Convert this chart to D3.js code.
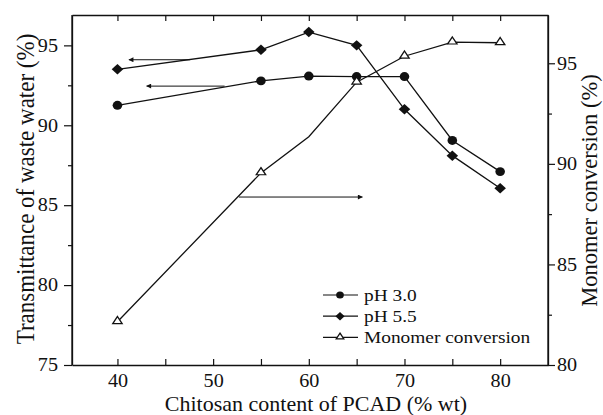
<!DOCTYPE html>
<html>
<head>
<meta charset="utf-8">
<script src="https://cdn.jsdelivr.net/npm/d3@7"></script>
<style>
  html, body { margin: 0; padding: 0; background: #fff; }
  svg text { font-family: "Liberation Serif", "Times New Roman", serif; fill: #111; }
</style>
</head>
<body>
<svg id="chart" width="603" height="415"></svg>
<script>
// ---------------- data ----------------
const chitosan = [40, 55, 60, 65, 70, 75, 80];
const ph30 = [91.25, 92.78, 93.08, 93.05, 93.05, 89.05, 87.1];
const ph55 = [93.5, 94.72, 95.83, 95.0, 91.0, 88.1, 86.06];
const monomer = [82.15, 89.55, 91.35, 94.06, 95.35, 96.05, 96.02];
const monomerMarked = [true, true, false, true, true, true, true];

const xTicks = [40, 45, 50, 55, 60, 65, 70, 75, 80];
const xTickLabels = [40, 50, 60, 70, 80];
const leftTicks = [75, 80, 85, 90, 95];
const leftMinor = [77.5, 82.5, 87.5, 92.5];
const rightTicks = [80, 85, 90, 95];
const rightMinor = [82.5, 87.5, 92.5];

const legendLabels = ["pH 3.0", "pH 5.5", "Monomer conversion"];
const legendSymbols = ["circle", "diamond", "triangle"];

// annotation arrows (data units): from x0 to x1 at y, on the given axis
const arrowX0 = [47.6, 51.2, 52.7];
const arrowX1 = [41.2, 43.05, 65.6];
const arrowY = [94.1, 92.45, 88.35];
const arrowAxis = ["left", "left", "right"];

const xTitle = "Chitosan content of PCAD (% wt)";
const yLeftTitle = "Transmittance of waste water (%)";
const yRightTitle = "Monomer conversion (%)";

// ---------------- layout ----------------
const L = 72, R = 548, T = 15, B = 365;
const stretch = 1.12;
const svg = d3.select("#chart");
const x = d3.scaleLinear().domain([35.25, 85]).range([L, R]);
const yL = d3.scaleLinear().domain([75, 96.9]).range([B, T]);
const yR = d3.scaleLinear().domain([80, 97.4]).range([B, T]);

const ink = "#111";

function stretchTexts(sel, k) {
  sel.selectAll("text").each(function () {
    const t = d3.select(this);
    const tx = +t.attr("x") || 0, ty = +t.attr("y") || 0;
    t.attr("x", 0).attr("y", 0).attr("transform", `translate(${tx},${ty}) scale(${k},1)`);
  });
}

// bottom axis (inward ticks)
const gB = svg.append("g").attr("transform", `translate(0,${B})`)
  .call(d3.axisBottom(x).tickValues(xTicks).tickSize(-6).tickSizeOuter(0).tickPadding(9.5)
    .tickFormat(d => xTickLabels.includes(d) ? d : ""));
// top axis (inward ticks, no labels)
const gT = svg.append("g").attr("transform", `translate(0,${T})`)
  .call(d3.axisTop(x).tickValues(xTicks).tickSize(-6).tickSizeOuter(0).tickFormat(""));
// left axis
const gL = svg.append("g").attr("transform", `translate(${L},0)`)
  .call(d3.axisLeft(yL).tickValues(leftTicks).tickSize(8).tickSizeOuter(0).tickPadding(6));
const gLm = svg.append("g").attr("transform", `translate(${L},0)`)
  .call(d3.axisLeft(yL).tickValues(leftMinor).tickSize(4).tickSizeOuter(0).tickFormat(""));
// right axis
const gR = svg.append("g").attr("transform", `translate(${R},0)`)
  .call(d3.axisRight(yR).tickValues(rightTicks).tickSize(7).tickSizeOuter(0).tickPadding(2));
const gRm = svg.append("g").attr("transform", `translate(${R},0)`)
  .call(d3.axisRight(yR).tickValues(rightMinor).tickSize(4).tickSizeOuter(0).tickFormat(""));

[gB, gT, gL, gLm, gR, gRm].forEach(g => {
  g.selectAll("path.domain").attr("stroke", ink).attr("stroke-width", 1.3);
  g.selectAll("line").attr("stroke", ink).attr("stroke-width", 1.2);
  g.selectAll("text").attr("font-size", 18).attr("fill", ink)
    .style("font-family", '"Liberation Serif", serif');
});
// make the frame extend fully
gL.select("path.domain").attr("d", `M0,${T}V${B}`);
gR.select("path.domain").attr("d", `M0,${T}V${B}`);
[gB, gL, gR].forEach(g => stretchTexts(g, stretch));

// ---------------- series ----------------
const plot = svg.append("g");
function drawLine(vals, yScale) {
  const line = d3.line().x((d, i) => x(chitosan[i])).y(d => yScale(d));
  plot.append("path").datum(vals).attr("d", line)
    .attr("fill", "none").attr("stroke", ink).attr("stroke-width", 1.3);
}
drawLine(ph30, yL);
drawLine(ph55, yL);
drawLine(monomer, yR);

const symCircle = d3.symbol().type(d3.symbolCircle);
const symDiamond = d3.symbol().type(d3.symbolDiamond2);
const symTri = d3.symbol().type(d3.symbolTriangle2);

function marker(g, type, cx, cy, scale) {
  if (type === "circle") {
    g.append("path").attr("d", symCircle.size(62 * scale * scale)())
      .attr("transform", `translate(${cx},${cy}) scale(1.08,1)`).attr("fill", ink);
  } else if (type === "diamond") {
    g.append("path").attr("d", symDiamond.size(70 * scale * scale)())
      .attr("transform", `translate(${cx},${cy}) scale(1.1,1)`).attr("fill", ink);
  } else {
    g.append("path").attr("d", symTri.size(48 * scale * scale)())
      .attr("transform", `translate(${cx},${cy - 0.5}) scale(1.15,1)`)
      .attr("fill", "#fff").attr("stroke", ink).attr("stroke-width", 1.2);
  }
}
chitosan.forEach((c, i) => marker(plot, "circle", x(c), yL(ph30[i]), 1));
chitosan.forEach((c, i) => marker(plot, "diamond", x(c), yL(ph55[i]), 1));
chitosan.forEach((c, i) => { if (monomerMarked[i]) marker(plot, "triangle", x(c), yR(monomer[i]), 1); });

// ---------------- arrows ----------------
svg.append("defs").append("marker")
  .attr("id", "ah").attr("viewBox", "0 0 10 10").attr("refX", 9).attr("refY", 5)
  .attr("markerWidth", 7).attr("markerHeight", 5).attr("markerUnits", "userSpaceOnUse")
  .attr("orient", "auto")
  .append("path").attr("d", "M0,0L10,5L0,10Z").attr("fill", ink);
arrowX0.forEach((x0, i) => {
  const ys = arrowAxis[i] === "left" ? yL : yR;
  svg.append("line")
    .attr("x1", x(x0)).attr("x2", x(arrowX1[i]))
    .attr("y1", ys(arrowY[i])).attr("y2", ys(arrowY[i]))
    .attr("stroke", ink).attr("stroke-width", 1).attr("marker-end", "url(#ah)");
});

// ---------------- legend ----------------
const lg = svg.append("g");
const legX0 = 323, legX1 = 358, legMk = 340, legTx = 364, legY0 = 295, legDy = 21.2;
legendLabels.forEach((lab, i) => {
  const yy = legY0 + i * legDy;
  lg.append("line").attr("x1", legX0).attr("x2", legX1).attr("y1", yy).attr("y2", yy)
    .attr("stroke", ink).attr("stroke-width", 1.2);
  marker(lg, legendSymbols[i], legMk, yy, 0.8);
  lg.append("text").attr("transform", `translate(${legTx},${yy + 6}) scale(1.14,1)`)
    .attr("font-size", 17).text(lab);
});

// ---------------- titles ----------------
svg.append("text").attr("transform", `translate(316,410.5) scale(1.1,1)`)
  .attr("text-anchor", "middle").attr("font-size", 20).text(xTitle);
svg.append("text").attr("transform", `translate(34,189) rotate(-90) scale(1,1.1)`)
  .attr("text-anchor", "middle").attr("font-size", 23).text(yLeftTitle);
svg.append("text").attr("transform", `translate(596.5,190.5) rotate(-90) scale(1,1.04)`)
  .attr("text-anchor", "middle").attr("font-size", 22.5).text(yRightTitle);
</script>
</body>
</html>
